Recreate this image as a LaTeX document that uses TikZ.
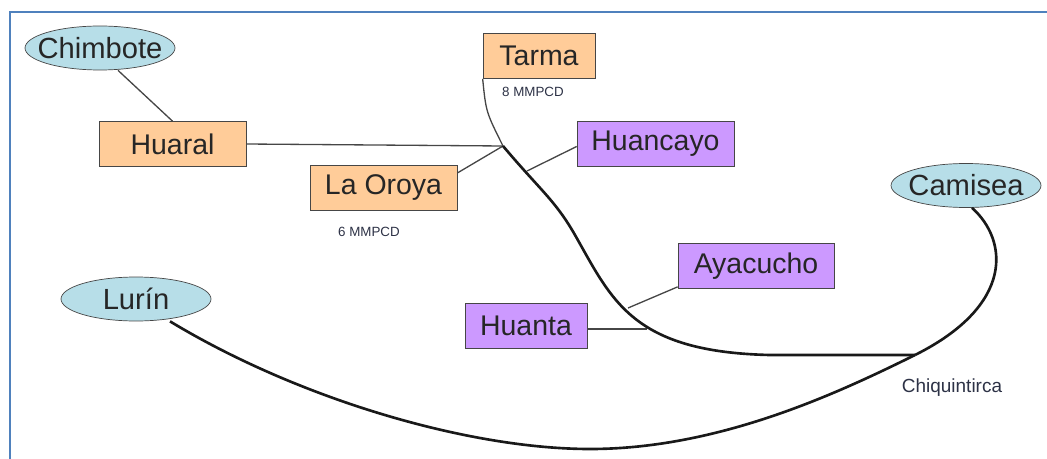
\documentclass[tikz,border=0pt]{standalone}
\usepackage{fontspec}
\setmainfont{Liberation Sans}
\usetikzlibrary{shapes.geometric, positioning}
\definecolor{framecol}{RGB}{79, 129, 189}
\definecolor{plantcol}{RGB}{255, 204, 153}
\definecolor{citycol}{RGB}{204, 153, 255}
\definecolor{portcol}{RGB}{183, 222, 232}
\definecolor{edgecol}{RGB}{70, 70, 70}
\definecolor{notecol}{RGB}{45, 50, 70}

\begin{document}
\begin{tikzpicture}[
    x=0.02cm, y=-0.02cm,
    plant/.style={draw=edgecol, fill=plantcol, minimum height=0.9cm,
                  inner sep=0pt, font=\fontsize{16.2}{19}\selectfont,
                  text=black!85},
    city/.style={plant, fill=citycol},
    port/.style={ellipse, draw=edgecol, fill=portcol, minimum width=3cm,
                 minimum height=0.88cm, inner xsep=-1cm, inner ysep=-0.5cm,
                 font=\fontsize{16.6}{19}\selectfont, text=black!85},
    branch/.style={draw=edgecol, line width=0.75pt},
    trunk/.style={draw=black!90, line width=1.5pt},
    note/.style={font=\fontsize{7.6}{9}\selectfont, text=notecol},
]
  \useasboundingbox (0,0) rectangle (1047,459);
  \draw[framecol, line width=1.3pt] (10,459) -- (10,12) -- (1047,12);

  % terminals
  \node[port] (chimbote) at (100,48)    {Chimbote};
  \node[port] (camisea)  at (966,185.5) {Camisea};
  \node[port] (lurin)    at (136,299)   {Lurín};

  % consumers
  \node[plant, minimum width=2.94cm] (huaral)   at (172.5,144) {Huaral};
  \node[plant, minimum width=2.24cm] (tarma)    at (539,56)    {Tarma};
  \node[plant, minimum width=2.94cm] (oroya)    at (383.5,188) {La Oroya};
  \node[city,  minimum width=3.14cm] (huancayo) at (655.5,143.5) {Huancayo};
  \node[city,  minimum width=3.12cm] (ayacucho) at (756,266)   {Ayacucho};
  \node[city,  minimum width=2.44cm] (huanta)   at (526,326)   {Huanta};

  \node[note] (tarmaflow) at (533,92)  {8 MMPCD};
  \node[note] (oroyaflow) at (369,232) {6 MMPCD};
  \node[note, font=\fontsize{10.8}{13}\selectfont] (chiq) at (952,388) {Chiquintirca};

  % tap points on the trunk
  \coordinate (jct)   at (503,146);
  \coordinate (hytap) at (527,171);
  \coordinate (aytap) at (628,308);
  \coordinate (hntap) at (647,329);
  \coordinate (chtap) at (915,355);

  \draw[branch] (chimbote.south) ++(18,0) coordinate (chs) -- (huaral.north);
  \draw[branch] (huaral.east) -- (jct);
  \draw[branch] (tarma.south west) .. controls (486,112) .. (jct);
  \draw[branch] (oroya.east) ++(0,-15) -- (jct);
  \draw[branch] (huancayo.west) ++(0,3) -- (hytap);
  \draw[branch] (ayacucho.south west) ++(0,-2) -- (aytap);
  \draw[branch] (huanta.east) ++(0,3) -- (hntap);

  % main pipeline
  \draw[trunk] (jct) .. controls (540,190) and (555,200) .. (575,235)
               .. controls (612,300) and (632,352) .. (770,355) -- (chtap);
  \draw[trunk] (camisea.south) ++(6,0) .. controls (1008,240) and (1015,305) .. (chtap);
  \draw[trunk] (lurin.south) ++(34,0) .. controls (300,400) and (470,449) .. (590,449)
               .. controls (720,449) and (840,392) .. (chtap);
\end{tikzpicture}
\end{document}
